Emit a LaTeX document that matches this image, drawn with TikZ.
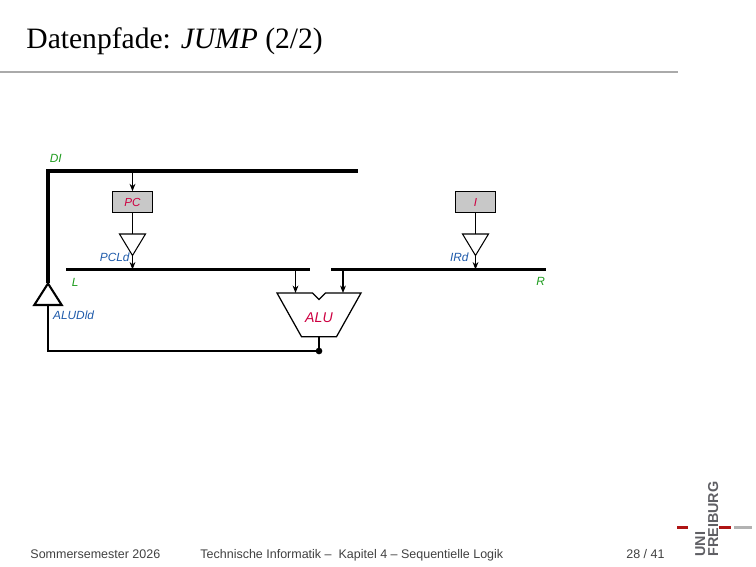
\documentclass[tikz,border=0pt]{standalone}
\usepackage{fontspec}
\setmainfont{Liberation Serif}
\setsansfont{Liberation Sans}
\usetikzlibrary{arrows.meta,positioning}

\definecolor{sigGreen}{RGB}{30,155,30}
\definecolor{sigBlue}{RGB}{30,90,170}
\definecolor{sigRed}{RGB}{205,0,65}
\definecolor{regGray}{RGB}{200,200,200}
\definecolor{ruleGray}{RGB}{170,170,170}
\definecolor{logoRed}{RGB}{175,20,20}
\definecolor{logoGray}{RGB}{95,95,100}

\tikzset{
  bus/.style={line width=1.45pt},
  wire/.style={line width=0.5pt},
  reg/.style={draw,wire,fill=regGray,minimum width=19.6pt,minimum height=9.8pt,inner sep=0pt,
    font=\sffamily\itshape\fontsize{5.6}{6}\selectfont,text=sigRed},
  busname/.style={inner sep=0pt,font=\sffamily\itshape\fontsize{5.7}{6}\selectfont,text=sigGreen},
  ctrlname/.style={inner sep=0pt,font=\sffamily\itshape\fontsize{5.7}{6}\selectfont,text=sigBlue},
  foot/.style={inner sep=0pt,font=\sffamily\fontsize{6}{7}\selectfont,text=black!75}
}

\begin{document}
\begin{tikzpicture}[x=0.4802pt,y=-0.4802pt,>={Stealth[length=3.6pt,width=2.8pt]}]
      \useasboundingbox (0,0) rectangle (756,567);
      % title
      \node[anchor=base west,inner sep=0pt,font=\fontsize{14.2}{17}\selectfont] (title) at (26,48.3) {Datenpfade: \textit{JUMP} (2/2)};
      \draw[ruleGray,line width=1.1pt] (0,71.7) -- (678,71.7);

      % buses
      \coordinate (DIa) at (48,171);
      \coordinate (DIb) at (358,171);
      \coordinate (La) at (66,269.5);
      \coordinate (Lb) at (310,269.5);
      \coordinate (Ra) at (331,269.5);
      \coordinate (Rb) at (546,269.5);
      \coordinate (ALUDldo) at (48,283.5);
      \draw[bus] (ALUDldo) -- (DIa) -- (DIb);
      \draw[bus] (La) -- (Lb);
      \draw[bus] (Ra) -- (Rb);
      \node[busname,anchor=base west] (DIname) at (49.5,163) {DI};
      \node[busname,anchor=base west] (Lname) at (71.5,286.5) {L};
      \node[busname,anchor=base west] (Rname) at (536,286) {R};

      % registers
      \node[reg] (PC) at (132.5,202) {PC};
      \node[reg] (I) at (475.5,202) {I};
      \draw[wire,->] (DIa -| PC) -- (PC.north);

      % drivers
      \coordinate (PCLdi) at (132.5,234);
      \coordinate (PCLdo) at (132.5,255.5);
      \draw[wire] (119.5,234) -- (145.5,234) -- (PCLdo) -- cycle;
      \draw[wire] (PC.south) -- (PCLdi);
      \draw[wire,->] (PCLdo) -- (PCLdo |- La);
      \node[ctrlname,anchor=base east] (PCLdname) at (130,261.7) {PCLd};

      \coordinate (IRdi) at (475.5,234);
      \coordinate (IRdo) at (475.5,255.5);
      \draw[wire] (462.5,234) -- (488.5,234) -- (IRdo) -- cycle;
      \draw[wire] (I.south) -- (IRdi);
      \draw[wire,->] (IRdo) -- (IRdo |- Ra);
      \node[ctrlname,anchor=base east] (IRdname) at (469,262) {IRd};

      % ALU
      \coordinate (ALUinL) at (295.5,293);
      \coordinate (ALUinR) at (343,293);
      \coordinate (ALUout) at (319,336.7);
      \draw[line width=0.6pt,line join=miter] (277,293) -- (312.5,293) -- (319,299.5) -- (325.5,293) -- (361,293)
            -- (336.5,336.7) -- (301.5,336.7) -- cycle;
      \node[inner sep=0pt,font=\sffamily\itshape\fontsize{6.8}{7}\selectfont,text=sigRed] (ALU) at (319,318) {ALU};
      \draw[wire,->] (ALUinL |- La) -- (ALUinL);
      \draw[wire,->] (ALUinR |- Ra) -- (ALUinR);

      % feedback ALU -> DI
      \coordinate (tap) at (319,351);
      \coordinate (ALUDldi) at (48,305);
      \draw[line width=1pt,line join=miter] (34.3,305) -- (61.7,305) -- (ALUDldo) -- cycle;
      \draw[wire] (ALUout) -- (tap) -- (tap -| ALUDldi) -- (ALUDldi);
      \fill (tap) circle (1.6pt);
      \node[ctrlname,anchor=base west] (ALUDldname) at (52.7,320) {ALUDld};

      % footer
      \node[foot,anchor=base west] (sem) at (30,558) {Sommersemester 2026};
      \node[foot,anchor=base west] (lect) at (200,558) {Technische Informatik --\ \ Kapitel 4 -- Sequentielle Logik};
      \node[foot,anchor=base east] (page) at (665,558) {28 / 41};

      % logo
      \node[rotate=90,anchor=base west,inner sep=0pt,font=\sffamily\bfseries\fontsize{6.9}{7}\selectfont,text=logoGray] (uni) at (705,557) {UNI};
      \node[rotate=90,anchor=base west,inner sep=0pt,font=\sffamily\bfseries\fontsize{6.9}{7}\selectfont,text=logoGray] (freiburg) at (718,557) {FREIBURG};
      \draw[logoRed,line width=1.2pt] (677,527.7) -- (688,527.7);
      \draw[logoRed,line width=1.2pt] (719,527.7) -- (731,527.7);
      \draw[black!30,line width=1.2pt] (734,527.7) -- (752,527.7);
\end{tikzpicture}
\end{document}
